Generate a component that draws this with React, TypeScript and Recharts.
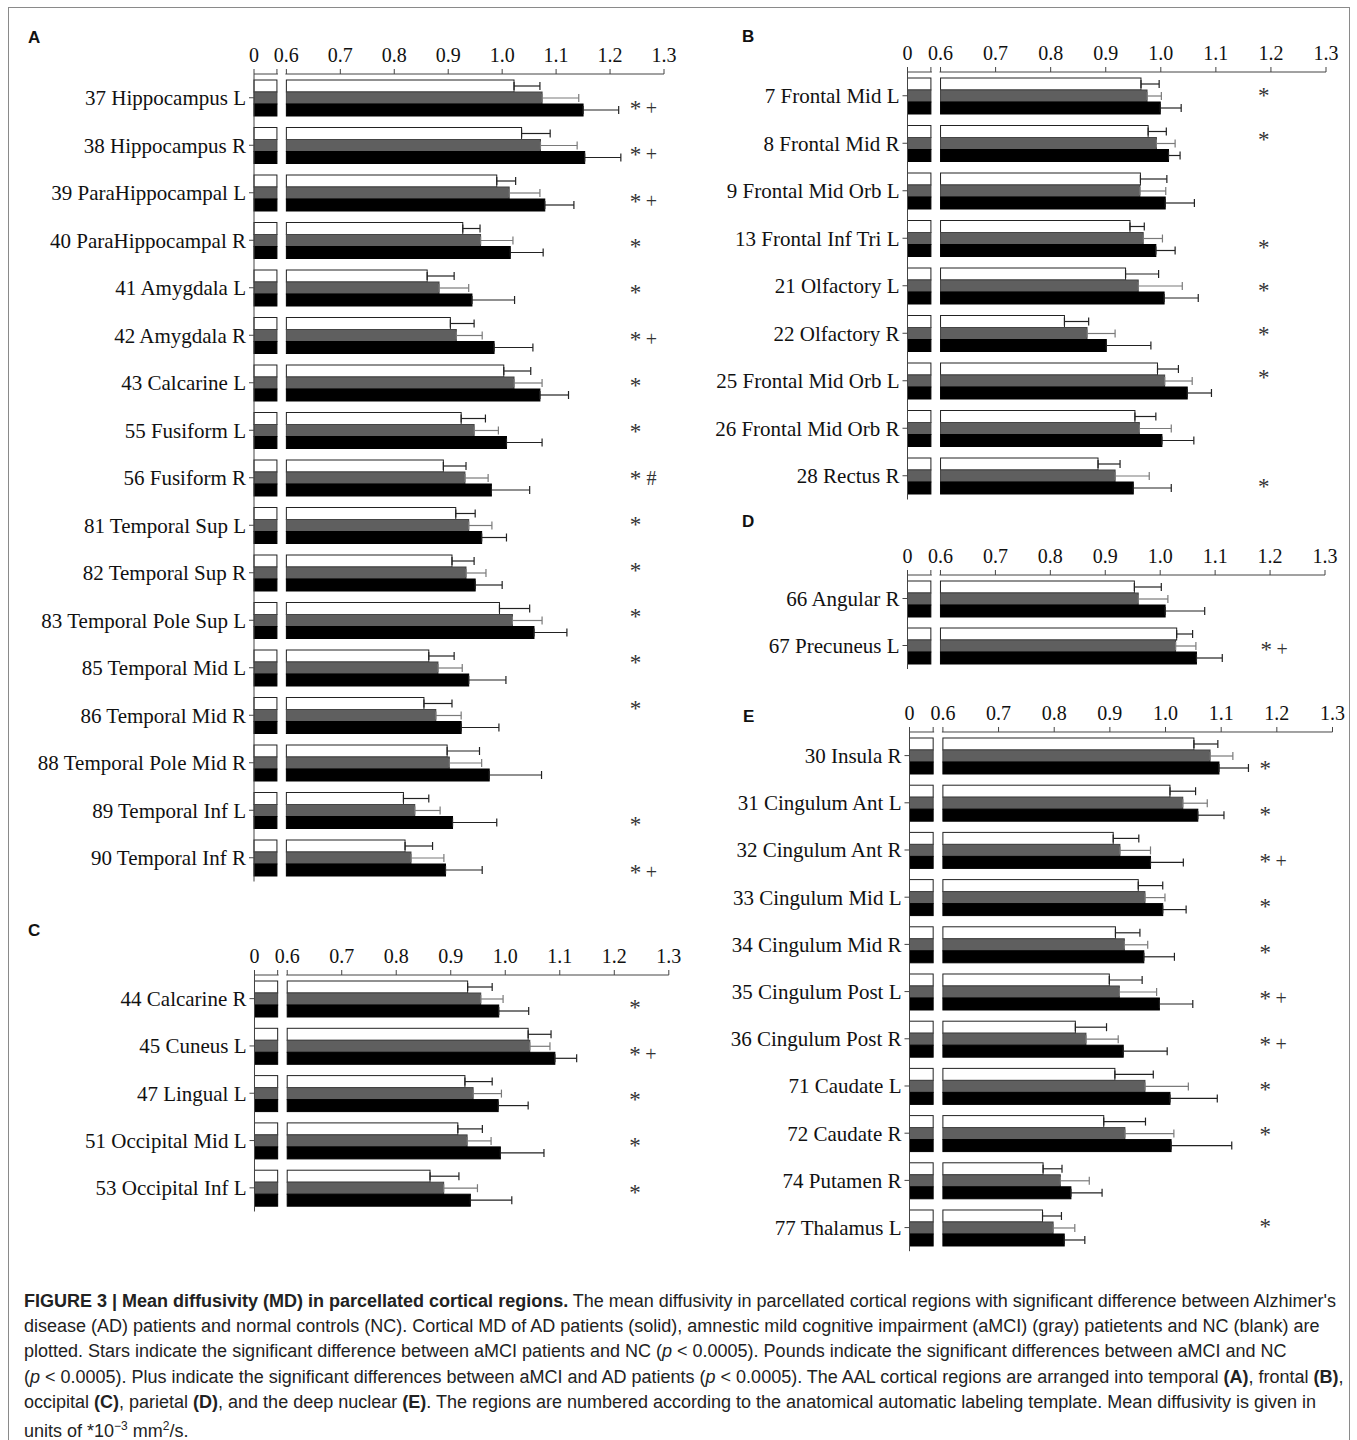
import { Bar, BarChart, ErrorBar, LabelList, XAxis, YAxis } from "recharts"

// the axis is broken: the short stub on the left stands for 0, the long part starts at 0.6
const ZERO = 0.54
const BREAK = 0.5825
const AXIS_TICKS = [ZERO, BREAK, 0.6, 0.7, 0.8, 0.9, 1.0, 1.1, 1.2, 1.3]

const SERIF = "'Liberation Serif', 'Times New Roman', serif"
const SANS = "'Liberation Sans', Arial, sans-serif"
const AXIS_H = 40

// A - temporal
const aRegions = [
  "37 Hippocampus L", "38 Hippocampus R", "39 ParaHippocampal L", "40 ParaHippocampal R",
  "41 Amygdala L", "42 Amygdala R", "43 Calcarine L", "55 Fusiform L", "56 Fusiform R",
  "81 Temporal Sup L", "82 Temporal Sup R", "83 Temporal Pole Sup L", "85 Temporal Mid L",
  "86 Temporal Mid R", "88 Temporal Pole Mid R", "89 Temporal Inf L", "90 Temporal Inf R",
]
const aNc = [1.022, 1.036, 0.99, 0.927, 0.861, 0.904, 1.003, 0.924, 0.891, 0.914, 0.907, 0.995, 0.864, 0.855, 0.898, 0.817, 0.82]
const aNcErr = [0.048, 0.053, 0.035, 0.032, 0.05, 0.044, 0.05, 0.045, 0.042, 0.036, 0.041, 0.056, 0.047, 0.052, 0.06, 0.047, 0.051]
const aMci = [1.074, 1.071, 1.013, 0.96, 0.883, 0.915, 1.022, 0.948, 0.931, 0.938, 0.933, 1.019, 0.881, 0.877, 0.902, 0.838, 0.831]
const aMciErr = [0.068, 0.068, 0.057, 0.06, 0.055, 0.048, 0.052, 0.045, 0.043, 0.043, 0.037, 0.055, 0.045, 0.047, 0.06, 0.047, 0.061]
const aAd = [1.15, 1.153, 1.079, 1.015, 0.944, 0.985, 1.07, 1.008, 0.98, 0.962, 0.95, 1.059, 0.938, 0.924, 0.976, 0.908, 0.895]
const aAdErr = [0.066, 0.067, 0.054, 0.061, 0.079, 0.072, 0.053, 0.066, 0.071, 0.046, 0.05, 0.061, 0.069, 0.07, 0.097, 0.082, 0.068]
const aMarks = ["*+", "*+", "*+", "*", "*", "*+", "*", "*", "*#", "*", "*", "*", "*", "*", "", "*", "*+"]

// B - frontal
const bRegions = [
  "7 Frontal Mid L", "8 Frontal Mid R", "9 Frontal Mid Orb L", "13 Frontal Inf Tri L",
  "21 Olfactory L", "22 Olfactory R", "25 Frontal Mid Orb L", "26 Frontal Mid Orb R", "28 Rectus R",
]
const bNc = [0.964, 0.977, 0.963, 0.944, 0.936, 0.825, 0.994, 0.953, 0.886]
const bNcErr = [0.033, 0.033, 0.048, 0.026, 0.06, 0.044, 0.038, 0.038, 0.04]
const bMci = [0.975, 0.992, 0.962, 0.968, 0.959, 0.866, 1.007, 0.961, 0.917]
const bMciErr = [0.026, 0.034, 0.047, 0.035, 0.08, 0.051, 0.05, 0.058, 0.062]
const bAd = [0.999, 1.014, 1.008, 0.991, 1.006, 0.901, 1.048, 1.002, 0.95]
const bAdErr = [0.038, 0.021, 0.053, 0.035, 0.062, 0.081, 0.044, 0.058, 0.069]
const bMarks = ["*", "*", "", "*", "*", "*", "*", "", "*"]

// C - occipital
const cRegions = ["44 Calcarine R", "45 Cuneus L", "47 Lingual L", "51 Occipital Mid L", "53 Occipital Inf L"]
const cNc = [0.931, 1.042, 0.926, 0.913, 0.862]
const cNcErr = [0.045, 0.042, 0.05, 0.045, 0.053]
const cMci = [0.955, 1.045, 0.941, 0.93, 0.887]
const cMciErr = [0.041, 0.037, 0.052, 0.044, 0.062]
const cAd = [0.988, 1.091, 0.987, 0.991, 0.936]
const cAdErr = [0.055, 0.04, 0.055, 0.08, 0.076]
const cMarks = ["*", "*+", "*", "*", "*"]

// D - parietal
const dRegions = ["66 Angular R", "67 Precuneus L"]
const dNc = [0.953, 1.03]
const dNcErr = [0.049, 0.029]
const dMci = [0.96, 1.028]
const dMciErr = [0.054, 0.037]
const dAd = [1.009, 1.066]
const dAdErr = [0.072, 0.047]
const dMarks = ["", "*+"]

// E - deep nuclear
const eRegions = [
  "30 Insula R", "31 Cingulum Ant L", "32 Cingulum Ant R", "33 Cingulum Mid L", "34 Cingulum Mid R",
  "35 Cingulum Post L", "36 Cingulum Post R", "71 Caudate L", "72 Caudate R", "74 Putamen R", "77 Thalamus L",
]
const eNc = [1.051, 1.008, 0.906, 0.951, 0.91, 0.899, 0.838, 0.909, 0.889, 0.78, 0.779]
const eNcErr = [0.043, 0.046, 0.046, 0.044, 0.044, 0.059, 0.056, 0.069, 0.075, 0.034, 0.034]
const eMci = [1.08, 1.031, 0.918, 0.963, 0.926, 0.917, 0.857, 0.963, 0.927, 0.811, 0.798]
const eMciErr = [0.041, 0.044, 0.055, 0.036, 0.042, 0.067, 0.058, 0.078, 0.088, 0.052, 0.039]
const eAd = [1.096, 1.058, 0.973, 0.995, 0.961, 0.989, 0.924, 1.008, 1.01, 0.83, 0.818]
const eAdErr = [0.053, 0.047, 0.059, 0.042, 0.055, 0.06, 0.079, 0.085, 0.109, 0.056, 0.037]
const eMarks = ["*", "*", "*+", "*", "*", "*+", "*+", "*", "*", "", "*"]

// layout: where each panel sits, and the small vertical drift of the significance column
const panels = [
  { id: "A", regions: aRegions, nc: aNc, ncErr: aNcErr, mci: aMci, mciErr: aMciErr, ad: aAd, adErr: aAdErr, marks: aMarks,
    boxLeft: 0, plotLeft: 254, plotRight: 664, plotTop: 73.5, rowH: 47.5, markAt: 1.247,
    shift: [7, 5.5, 4.7, 2.8, 1.3, 0, -1.3, -2.8, -2.7, -4.7, -6.2, -7.7, -8.8, -10.3, 0, 10.7, 10.5] },
  { id: "B", regions: bRegions, nc: bNc, ncErr: bNcErr, mci: bMci, mciErr: bMciErr, ad: bAd, adErr: bAdErr, marks: bMarks,
    boxLeft: 690, plotLeft: 907.5, plotRight: 1326, plotTop: 72.2, rowH: 47.5, markAt: 1.187,
    shift: [-3.8, -7.3, 0, 5.7, 1.3, -2.7, -7, 0, 7.3] },
  { id: "C", regions: cRegions, nc: cNc, ncErr: cNcErr, mci: cMci, mciErr: cMciErr, ad: cAd, adErr: cAdErr, marks: cMarks,
    boxLeft: 0, plotLeft: 254.5, plotRight: 668.8, plotTop: 975.2, rowH: 47.3, markAt: 1.238,
    shift: [5.5, 4.5, 2.5, 1.5, 0.5] },
  { id: "D", regions: dRegions, nc: dNc, ncErr: dNcErr, mci: dMci, mciErr: dMciErr, ad: dAd, adErr: dAdErr, marks: dMarks,
    boxLeft: 690, plotLeft: 907.5, plotRight: 1325, plotTop: 574.8, rowH: 47, markAt: 1.193,
    shift: [0, 0] },
  { id: "E", regions: eRegions, nc: eNc, ncErr: eNcErr, mci: eMci, mciErr: eMciErr, ad: eAd, adErr: eAdErr, marks: eMarks,
    boxLeft: 690, plotLeft: 909.5, plotRight: 1332.5, plotTop: 731.6, rowH: 47.2, markAt: 1.179,
    shift: [9.2, 8.2, 7.2, 5.8, 3.8, 3.2, 1.8, 0, -2.2, 0, -4.8] },
]

const letters = [
  { id: "A", left: 28, top: 43.5 },
  { id: "B", left: 742, top: 43 },
  { id: "C", left: 28, top: 937 },
  { id: "D", left: 742, top: 528 },
  { id: "E", left: 743, top: 723 },
]

// bar split in two pieces around the axis break
const brokenBar = (key: string) => (p: any) => {
  const { x, y, width, height, fill, stroke, payload } = p
  if (!width || width <= 0) return null
  const ppu = width / (payload[key] - ZERO)
  const x1 = x + (BREAK - ZERO) * ppu
  const x2 = x + (0.6 - ZERO) * ppu
  return (
    <g>
      <rect x={x} y={y} width={x1 - x} height={height} fill={fill} stroke={stroke} strokeWidth={1} />
      <rect x={x2} y={y} width={x + width - x2} height={height} fill={fill} stroke={stroke} strokeWidth={1} />
    </g>
  )
}

function TopTick(props: any) {
  const { x, y, payload, ppu } = props
  const v = payload.value
  const lineY = y + 13
  if (Math.abs(v - BREAK) < 1e-6) {
    // cut the axis line between the stub and 0.6
    return <rect x={x + 1} y={lineY - 2} width={(0.6 - BREAK) * ppu - 2} height={4} fill="#fff" />
  }
  const label = Math.abs(v - ZERO) < 1e-6 ? "0" : v.toFixed(1)
  return (
    <text x={x} y={lineY - 12} textAnchor="middle" fontFamily={SERIF} fontSize={20} fill="#111">
      {label}
    </text>
  )
}

function Marks(props: any) {
  const { p, rows } = props
  const vb = props.viewBox || props
  const i = props.index
  const row = rows[i]
  if (!row || !row.mark) return null
  const ppu = vb.width / (row.mci - ZERO)
  const mx = vb.x + (p.markAt - ZERO) * ppu
  const base = vb.y + vb.height / 2 + p.shift[i] + 10
  const chars = row.mark.split("")
  return (
    <g>
      {chars.map((c: string, k: number) => (
        <text
          key={k}
          x={mx + k * 16}
          y={c === "*" ? base + 1 : base}
          textAnchor="middle"
          fontFamily={SERIF}
          fontSize={c === "*" ? 23 : 20}
          fill="#333"
        >
          {c}
        </text>
      ))}
    </g>
  )
}

function Panel({ p }: { p: any }) {
  const rows = p.regions.map((region: string, i: number) => ({
    region,
    nc: p.nc[i],
    ncErr: p.ncErr[i],
    mci: p.mci[i],
    mciErr: p.mciErr[i],
    ad: p.ad[i],
    adErr: p.adErr[i],
    mark: p.marks[i],
  }))
  const ppu = (p.plotRight - p.plotLeft) / (1.3 - ZERO)
  const width = p.plotRight + 20 - p.boxLeft
  const height = AXIS_H + p.regions.length * p.rowH + 2

  return (
    <div style={{ position: "absolute", left: p.boxLeft, top: p.plotTop - AXIS_H }}>
      <BarChart
        width={width}
        height={height}
        data={rows}
        layout="vertical"
        margin={{ top: 0, right: 20, bottom: 2, left: 0 }}
        barSize={12}
        barGap={0}
      >
        <XAxis
          type="number"
          orientation="top"
          domain={[ZERO, 1.3]}
          ticks={AXIS_TICKS}
          interval={0}
          height={AXIS_H}
          tickSize={5}
          tickMargin={8}
          stroke="#444"
          tick={(t: any) => <TopTick {...t} ppu={ppu} />}
        />
        <YAxis
          type="category"
          dataKey="region"
          width={p.plotLeft - p.boxLeft}
          interval={0}
          tickSize={5}
          tickMargin={3}
          stroke="#444"
          tick={{ fontFamily: SERIF, fontSize: 21, fill: "#111" }}
        />
        <Bar dataKey="nc" fill="#ffffff" stroke="#222" shape={brokenBar("nc")} isAnimationActive={false}>
          <ErrorBar dataKey={(d: any) => [0, d.ncErr]} direction="x" width={4} stroke="#222" strokeWidth={1.2} />
        </Bar>
        <Bar dataKey="mci" fill="#5f5f5f" stroke="#444" shape={brokenBar("mci")} isAnimationActive={false}>
          <ErrorBar dataKey={(d: any) => [0, d.mciErr]} direction="x" width={4} stroke="#7a7a7a" strokeWidth={1.2} />
          <LabelList dataKey="mark" content={(lp: any) => <Marks {...lp} p={p} rows={rows} />} />
        </Bar>
        <Bar dataKey="ad" fill="#000000" stroke="#000" shape={brokenBar("ad")} isAnimationActive={false}>
          <ErrorBar dataKey={(d: any) => [0, d.adErr]} direction="x" width={4} stroke="#222" strokeWidth={1.2} />
        </Bar>
      </BarChart>
    </div>
  )
}

const captionLines = [
  <>
    <b>FIGURE 3 | Mean diffusivity (MD) in parcellated cortical regions.</b> The mean diffusivity in parcellated cortical
    regions with significant difference between Alzhimer's
  </>,
  <>
    disease (AD) patients and normal controls (NC). Cortical MD of AD patients (solid), amnestic mild cognitive impairment
    (aMCI) (gray) patietents and NC (blank) are
  </>,
  <>
    plotted. Stars indicate the significant difference between aMCI patients and NC (<i>p</i> &lt; 0.0005). Pounds indicate
    the significant differences between aMCI and NC
  </>,
  <>
    (<i>p</i> &lt; 0.0005). Plus indicate the significant differences between aMCI and AD patients (<i>p</i> &lt; 0.0005).
    The AAL cortical regions are arranged into temporal <b>(A)</b>, frontal <b>(B)</b>,
  </>,
  <>
    occipital <b>(C)</b>, parietal <b>(D)</b>, and the deep nuclear <b>(E)</b>. The regions are numbered according to the
    anatomical automatic labeling template. Mean diffusivity is given in
  </>,
  <>
    units of *10<sup style={{ fontSize: 12 }}>−3</sup> mm<sup style={{ fontSize: 12 }}>2</sup>/s.
  </>,
]
const captionY = [1301, 1326, 1351, 1377, 1402, 1426]

export default function App() {
  return (
    <div style={{ position: "absolute", left: 0, top: 0, width: 1357, height: 1440, background: "#fff", overflow: "hidden" }}>
      <div
        style={{
          position: "absolute",
          left: 8,
          top: 7,
          width: 1342,
          height: 1440,
          border: "1px solid #8a8a8a",
          boxSizing: "border-box",
        }}
      />
      {panels.map((p) => (
        <Panel key={p.id} p={p} />
      ))}
      {letters.map((l) => (
        <div
          key={l.id}
          style={{
            position: "absolute",
            left: l.left,
            top: l.top - 15,
            fontFamily: SANS,
            fontWeight: "bold",
            fontSize: 17,
            lineHeight: "17px",
            color: "#111",
          }}
        >
          {l.id}
        </div>
      ))}
      {captionLines.map((line, i) => (
        <div
          key={i}
          style={{
            position: "absolute",
            left: 24,
            top: captionY[i] - 11,
            fontFamily: SANS,
            fontSize: 18,
            lineHeight: "22px",
            whiteSpace: "nowrap",
            color: "#222",
          }}
        >
          {line}
        </div>
      ))}
    </div>
  )
}
